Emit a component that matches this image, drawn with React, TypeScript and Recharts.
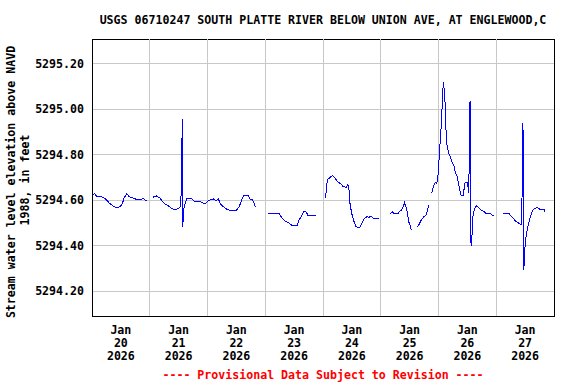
import React from "react";
import { LineChart, Line, XAxis, YAxis, CartesianGrid, ReferenceLine, ReferenceArea } from "recharts";

// hours since Jan 20 2026 00:00, null = gap in record
const hours = [
  0.3, 1.1, 1.8, 3.0, 4.7, 6.1, 7.2, 8.6, 10.3, 11.6, 12.6, 13.3, 14.4, 15.5, 17.2, 19.2, 21.3, 22.7, 24,
  25.2, 26.9, 28.3, 29.4, 30.3, 31.7, 33.1, 34.5, 35.9, 36.9, 37.3, 37.5, 37.7, 38.1, 38.7, 39.4, 41.4,
  42.8, 44.9, 47.0, 48.3, 50.4, 51.8, 52.5, 53.5, 54.6, 56.0, 58.1, 60.1, 61.2, 62.2, 62.9, 65.0, 65.7,
  66.8, 67.3, 67.9, 70,
  73.3, 77.8, 78.8, 80.2, 81.6, 83.0, 85.3, 85.9, 86.9, 88.1, 88.9, 89.9, 93.0, 95,
  97.0, 97.4, 97.8, 98.6, 99.9, 101.0, 102.1, 103.4, 104.4, 105.6, 106.3, 106.7, 107.2, 107.9, 108.9,
  109.7, 111.4, 112.2, 113.0, 114.2, 115.2, 116.0, 116.9, 119.2, 121,
  124.0, 125.0, 125.5, 127.3, 127.7, 128.7, 129.4, 129.8, 130.4, 131.0, 131.6, 132.2, 132.7, 134,
  135.2, 136.0, 137.0, 137.7, 138.8, 139.5, 139.8, 140.5,
  141.2, 141.9, 142.6, 143.3, 143.9, 144.3, 144.8, 145.2, 145.6, 146.0, 146.3, 146.6, 146.8, 147.1,
  147.5, 148.2, 149.1, 149.8, 150.5, 151.0, 151.8, 152.4, 152.9, 153.5, 154.3, 154.9, 156.0, 156.6,
  156.8, 157.1, 157.2, 157.6, 157.9, 158.2, 158.8, 159.6, 160.6, 161.6, 162.9, 163.8, 165.7, 166.8, 169,
  170.9, 173.4, 174.4, 175.4, 176.2, 177.6, 178.6, 179.0, 179.3, 179.4, 179.8, 180.0, 180.7, 181.3,
  182.0, 182.8, 183.4, 184.9, 186.2, 187.9, 188.1,
];

const level = [
  5294.623, 5294.631, 5294.618, 5294.616, 5294.613, 5294.601, 5294.587, 5294.576, 5294.567, 5294.572,
  5294.584, 5294.609, 5294.628, 5294.616, 5294.609, 5294.601, 5294.607, 5294.597, null,
  5294.613, 5294.619, 5294.609, 5294.594, 5294.584, 5294.575, 5294.565, 5294.557, 5294.565, 5294.572,
  5294.770, 5294.958, 5294.481, 5294.557, 5294.587, 5294.607, 5294.607, 5294.594, 5294.594, 5294.584,
  5294.598, 5294.606, 5294.598, 5294.606, 5294.582, 5294.572, 5294.560, 5294.553, 5294.557, 5294.572,
  5294.601, 5294.619, 5294.619, 5294.604, 5294.601, 5294.587, 5294.569, null,
  5294.540, 5294.540, 5294.525, 5294.509, 5294.501, 5294.490, 5294.490, 5294.510, 5294.528, 5294.550,
  5294.550, 5294.531, 5294.531, null,
  5294.609, 5294.645, 5294.690, 5294.697, 5294.709, 5294.697, 5294.682, 5294.672, 5294.660, 5294.657,
  5294.668, 5294.660, 5294.587, 5294.543, 5294.506, 5294.483, 5294.481, 5294.498, 5294.517, 5294.528,
  5294.525, 5294.531, 5294.521, 5294.521, null,
  5294.540, 5294.550, 5294.540, 5294.540, 5294.550, 5294.557, 5294.572, 5294.590, 5294.572, 5294.550,
  5294.506, 5294.491, 5294.469, null,
  5294.483, 5294.495, 5294.516, 5294.525, 5294.535, 5294.557, 5294.579, null,
  5294.631, 5294.660, 5294.678, 5294.672, 5294.719, 5294.792, 5294.874, 5294.940, 5295.035, 5295.121,
  5295.094, 5295.043, 5295.021, 5294.910, 5294.844, 5294.808, 5294.785, 5294.763, 5294.748, 5294.722,
  5294.704, 5294.668, 5294.642, 5294.619, 5294.619, 5294.675, 5294.678, 5294.631, 5294.837, 5295.038,
  5294.447, 5294.400, 5294.439, 5294.521, 5294.557, 5294.576, 5294.569, 5294.557, 5294.550, 5294.540,
  5294.540, 5294.531, null,
  5294.540, 5294.540, 5294.528, 5294.516, 5294.506, 5294.498, 5294.491, 5294.940, 5294.866, 5294.292,
  5294.344, 5294.410, 5294.461, 5294.491, 5294.521, 5294.546, 5294.560, 5294.569, 5294.560, 5294.560,
  5294.550,
];

const labelTicks = [12, 36, 60, 84, 108, 132, 156, 180];
const tickMonths = ["Jan", "Jan", "Jan", "Jan", "Jan", "Jan", "Jan", "Jan"];
const tickDays = ["20", "21", "22", "23", "24", "25", "26", "27"];
const tickYears = ["2026", "2026", "2026", "2026", "2026", "2026", "2026", "2026"];
const dayLines = [24, 48, 72, 96, 120, 144, 168];
const yTicks = [5294.2, 5294.4, 5294.6, 5294.8, 5295.0, 5295.2];
const yMin = 5294.091;
const yMax = 5295.309;

const data = hours.map((h, i) => ({ h, v: level[i] }));

const FONT = "'DejaVu Sans Mono', monospace";

const DateTick = ({ x, y, index }: any) => (
  <text x={x} y={y} textAnchor="middle" fontFamily={FONT} fontWeight="bold" fontSize={11.6} fill="#000">
    <tspan x={x} dy={10}>{tickMonths[index]}</tspan>
    <tspan x={x} dy={13}>{tickDays[index]}</tspan>
    <tspan x={x} dy={13}>{tickYears[index]}</tspan>
  </text>
);

export default function App() {
  return (
    <div style={{ position: "fixed", left: 0, top: 0, width: 576, height: 384, background: "#fff" }}>
      <LineChart width={576} height={384} data={data} margin={{ top: 39, right: 22, bottom: 38, left: 0 }}>
        <CartesianGrid vertical={false} stroke="#c8c8c8" shapeRendering="crispEdges" />
        {dayLines.map((d) => (
          <ReferenceLine key={d} x={d} stroke="#c8c8c8" shapeRendering="crispEdges" />
        ))}
        <XAxis
          dataKey="h"
          type="number"
          domain={[0, 192]}
          ticks={labelTicks}
          interval={0}
          height={30}
          tickLine={false}
          axisLine={false}
          tick={<DateTick />}
        />
        <YAxis
          type="number"
          domain={[yMin, yMax]}
          ticks={yTicks}
          width={92}
          tickLine={false}
          axisLine={false}
          tickFormatter={(v) => v.toFixed(2)}
          tick={{ fill: "#000", fontFamily: FONT, fontWeight: "bold", fontSize: 11.6 }}
        />
        <Line
          dataKey="v"
          type="linear"
          stroke="#0000ff"
          strokeWidth={1}
          shapeRendering="crispEdges"
          dot={false}
          connectNulls={false}
          isAnimationActive={false}
        />
        <ReferenceArea
          x1={0}
          x2={192}
          y1={yMin}
          y2={yMax}
          fill="none"
          stroke="#000"
          strokeWidth={1}
          shapeRendering="crispEdges"
        />
      </LineChart>
      <svg width={576} height={384} style={{ position: "absolute", left: 0, top: 0, pointerEvents: "none" }}>
        <text x={323} y={24} textAnchor="middle" fontFamily={FONT} fontWeight="bold" fontSize={11.6} fill="#000">
          USGS 06710247 SOUTH PLATTE RIVER BELOW UNION AVE, AT ENGLEWOOD,C
        </text>
        <text x={323} y={379} textAnchor="middle" fontFamily={FONT} fontWeight="bold" fontSize={11.6} fill="#ff0000">
          ---- Provisional Data Subject to Revision ----
        </text>
        <text
          transform="translate(15,182) rotate(-90)"
          textAnchor="middle"
          fontFamily={FONT}
          fontWeight="bold"
          fontSize={11.6}
          fill="#000"
        >
          Stream water level elevation above NAVD
        </text>
        <text
          transform="translate(29,180) rotate(-90)"
          textAnchor="middle"
          fontFamily={FONT}
          fontWeight="bold"
          fontSize={11.6}
          fill="#000"
        >
          1988, in feet
        </text>
      </svg>
    </div>
  );
}
